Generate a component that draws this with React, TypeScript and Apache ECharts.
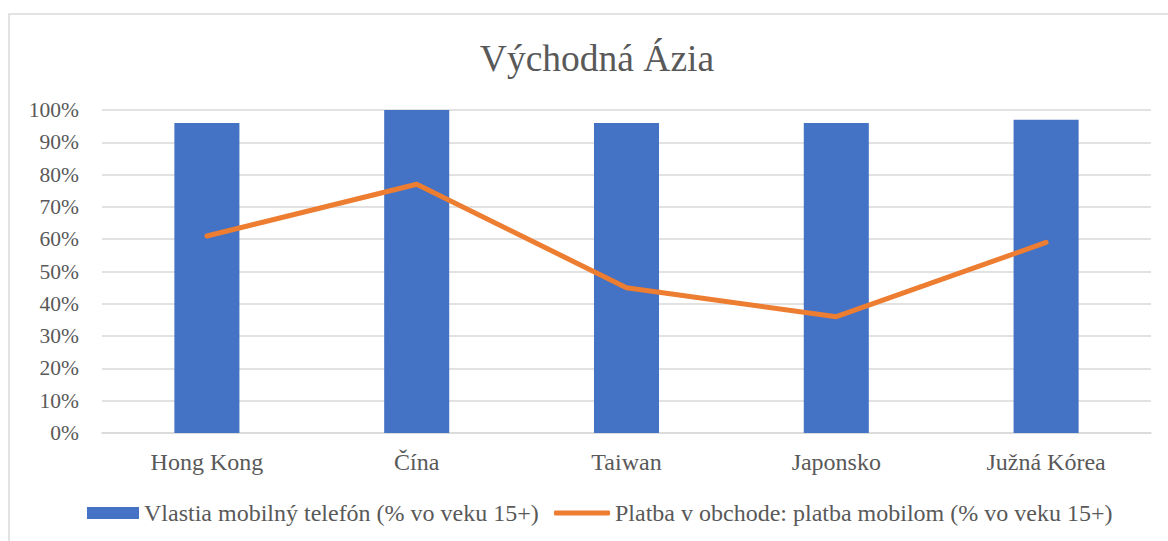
import React, { useEffect, useRef } from "react";
import * as echarts from "echarts";

const categories = ["Hong Kong", "Čína", "Taiwan", "Japonsko", "Južná Kórea"];
const ownPhone = [96, 100, 96, 96, 97];
const mobilePay = [61, 77, 45, 36, 59];
const barName = "Vlastia mobilný telefón (% vo veku 15+)";
const lineName = "Platba v obchode: platba mobilom (% vo veku 15+)";
const titleText = "Východná Ázia";

const FONT = "Liberation Serif";
const GREY = "#595959";

export default function App() {
  const ref = useRef<HTMLDivElement>(null);
  useEffect(() => {
    if (!ref.current) return;
    const chart = echarts.init(ref.current, null, { renderer: "svg" });
    chart.setOption({
      animation: false,
      backgroundColor: "#ffffff",
      textStyle: { fontFamily: FONT },
      title: {
        text: titleText,
        left: 592,
        top: 34,
        textAlign: "center",
        textStyle: { fontFamily: FONT, fontSize: 37.5, fontWeight: "normal", color: GREY },
      },
      graphic: [
        {
          type: "rect",
          shape: { x: 9, y: 14, width: 1180, height: 560 },
          style: { fill: "none", stroke: "#d9d9d9", lineWidth: 1.5 },
          silent: true,
          z: -1,
        },
      ],
      legend: [
        {
          data: [{ name: barName, icon: "rect" }],
          left: 82,
          top: 496,
          itemWidth: 52,
          itemHeight: 12,
          textStyle: { fontFamily: FONT, fontSize: 24, color: GREY },
          selectedMode: false,
        },
        {
          data: [{ name: lineName, icon: "roundRect" }],
          left: 549,
          top: 496,
          itemWidth: 56,
          itemHeight: 5,
          textStyle: { fontFamily: FONT, fontSize: 24, color: GREY },
          selectedMode: false,
        },
      ],
      grid: { left: 102, right: 17, top: 110, bottom: 108, containLabel: false },
      xAxis: {
        type: "category",
        data: categories,
        axisLine: { show: true, lineStyle: { color: "#d9d9d9", width: 1.5 } },
        axisTick: { show: false },
        axisLabel: { fontFamily: FONT, fontSize: 24, color: GREY, margin: 17 },
      },
      yAxis: {
        type: "value",
        min: 0,
        max: 100,
        interval: 10,
        axisLine: { show: false },
        axisTick: { show: false },
        axisLabel: {
          fontFamily: FONT,
          fontSize: 21.5,
          color: GREY,
          margin: 23,
          formatter: (v: number) => `${v}%`,
        },
        splitLine: { lineStyle: { color: "#d9d9d9", width: 1.5 } },
      },
      series: [
        {
          name: barName,
          type: "bar",
          data: ownPhone,
          barWidth: "31%",
          itemStyle: { color: "#4472C4" },
        },
        {
          name: lineName,
          type: "line",
          data: mobilePay,
          symbol: "none",
          lineStyle: { color: "#ED7D31", width: 5, cap: "round", join: "round" },
          itemStyle: { color: "#ED7D31" },
        },
      ],
    });
    return () => chart.dispose();
  }, []);
  return (
    <div
      ref={ref}
      style={{ position: "fixed", left: 0, top: 0, width: 1168, height: 541 }}
    />
  );
}
